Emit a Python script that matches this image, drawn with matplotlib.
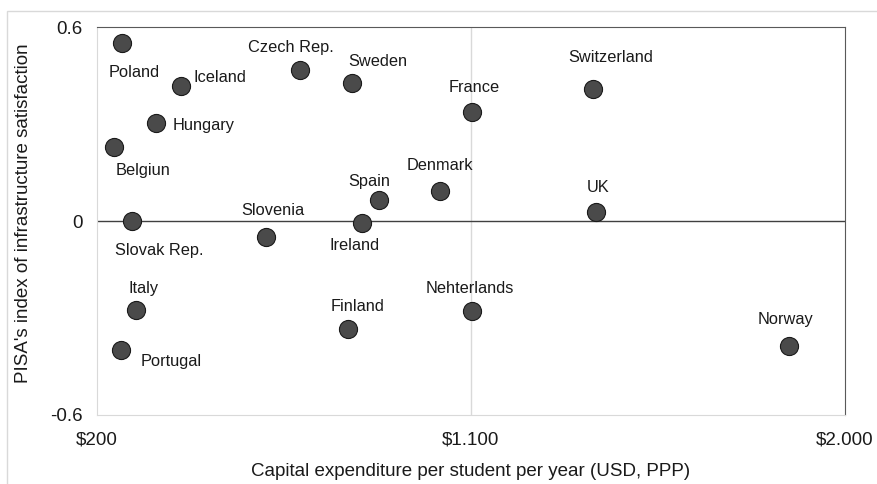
import matplotlib.pyplot as plt
from matplotlib.patches import Rectangle
from matplotlib.ticker import FuncFormatter

plt.rcParams['font.family'] = ['Liberation Sans', 'DejaVu Sans']

# data
countries = ['Poland', 'Iceland', 'Czech Rep.', 'Sweden', 'Hungary', 'Belgiun',
             'Spain', 'Denmark', 'France', 'Switzerland', 'UK', 'Slovak Rep.',
             'Slovenia', 'Ireland', 'Italy', 'Portugal', 'Finland', 'Nehterlands',
             'Norway']
capex = [262, 402, 690, 814, 342, 242, 878, 1026, 1104, 1393, 1402, 286,
         607, 838, 294, 258, 805, 1102, 1866]
infra = [0.552, 0.418, 0.468, 0.428, 0.304, 0.230, 0.066, 0.092, 0.337, 0.409,
         0.029, 0.0, -0.049, -0.005, -0.275, -0.399, -0.333, -0.279, -0.385]

# label offsets in pixels (dx, dy)
offsets = [(12, -30), (39, 9), (-10, 22), (26, 21), (48, -3), (29, -24),
           (-9, 18), (0, 26), (2, 25), (18, 32), (2, 24), (27, -29),
           (7, 26), (-7, -23), (8, 21), (50, -11), (9, 22), (-2, 23), (-4, 26)]

x_ticks = [200, 1100, 2000]
y_ticks = [-0.6, 0, 0.6]

fig = plt.figure(figsize=(8.78, 4.84), dpi=100)
ax = fig.add_axes([0.1101, 0.1426, 0.8523, 0.8010])

# outer light border
fig.patches.append(Rectangle((7 / 878, -0.05), 1.2, (484 - 10.7) / 484 + 0.05,
                             transform=fig.transFigure, fill=False,
                             edgecolor='#d9d9d9', linewidth=1.0))

ax.axvline(1100, color='#d9d9d9', linewidth=1.0, zorder=1)
ax.axhline(0, color='#404040', linewidth=1.0, zorder=1)

ax.scatter(capex, infra, s=170, color='#4a4a4a', edgecolors='#1a1a1a',
           linewidths=0.8, zorder=3)

for name, x, y, (dx, dy) in zip(countries, capex, infra, offsets):
    ax.annotate(name, (x, y), xytext=(dx, dy), textcoords='offset pixels',
                ha='center', va='center', fontsize=11.8, color='#1a1a1a')

ax.set_xlim(200, 2000)
ax.set_ylim(-0.6, 0.6)
ax.set_xticks(x_ticks)
ax.set_yticks(y_ticks)
ax.xaxis.set_major_formatter(FuncFormatter(lambda v, p: '$' + f'{int(v):,}'.replace(',', '.')))
ax.yaxis.set_major_formatter(FuncFormatter(lambda v, p: '0' if v == 0 else f'{v:.1f}'))
ax.tick_params(axis='x', length=0, pad=12, labelsize=13.5, labelcolor='#1a1a1a')
ax.tick_params(axis='y', length=0, pad=10, labelsize=13.5, labelcolor='#1a1a1a')

for side in ['top', 'right']:
    ax.spines[side].set_color('#595959')
for side in ['bottom', 'left']:
    ax.spines[side].set_color('#d9d9d9')

ax.set_xlabel('Capital expenditure per student per year (USD, PPP)', fontsize=13.5,
              color='#1a1a1a', labelpad=10)
ax.set_ylabel("PISA's index of infrastructure satisfaction", fontsize=13.5,
              color='#1a1a1a', labelpad=13)
ax.yaxis.label.set_y(0.52)

fig.savefig('out.png', dpi=100)
